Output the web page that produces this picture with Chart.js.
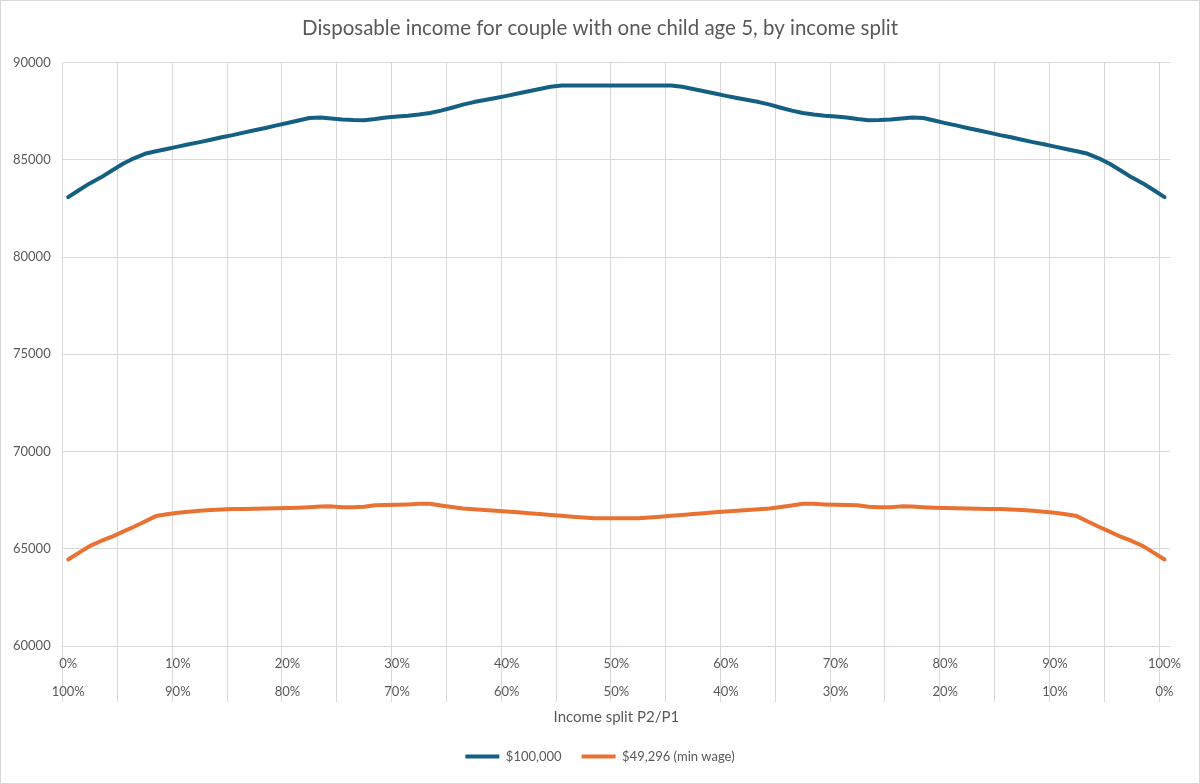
<!DOCTYPE html>
<html>
<head>
<meta charset="utf-8">
<script src="https://cdn.jsdelivr.net/npm/chart.js@4.4.1/dist/chart.umd.min.js"></script>
<style>
  html, body { margin: 0; padding: 0; background: #fff; }
  #wrap { width: 1200px; height: 784px; box-sizing: border-box; border: 1px solid #d9d9d9; }
</style>
</head>
<body>
<div id="wrap"><canvas id="chart"></canvas></div>
<script>
// Income split P2/P1 in 1% steps, 0%..100%
const splits = Array.from({ length: 101 }, (_, i) => i + "%");
const topLabels = ["0%", "10%", "20%", "30%", "40%", "50%", "60%", "70%", "80%", "90%", "100%"];
const bottomLabels = ["100%", "90%", "80%", "70%", "60%", "50%", "40%", "30%", "20%", "10%", "0%"];

const income100k = [
  83080, 83450, 83800, 84100, 84450, 84800, 85080, 85310, 85440, 85560,
  85680, 85800, 85910, 86030, 86160, 86270, 86400, 86520, 86640, 86770,
  86890, 87020, 87150, 87180, 87130, 87080, 87050, 87040, 87100, 87180,
  87230, 87270, 87330, 87410, 87530, 87680, 87840, 87970, 88080, 88180,
  88290, 88410, 88530, 88640, 88760, 88820, 88820, 88820, 88820, 88820,
  88820,
  88820, 88820, 88820, 88820, 88820, 88760, 88640, 88530, 88410, 88290,
  88180, 88080, 87970, 87840, 87680, 87530, 87410, 87330, 87270, 87230,
  87180, 87100, 87040, 87050, 87080, 87130, 87180, 87150, 87020, 86890,
  86770, 86640, 86520, 86400, 86270, 86160, 86030, 85910, 85800, 85680,
  85560, 85440, 85310, 85080, 84800, 84450, 84100, 83800, 83450, 83080
];

const incomeMinWage = [
  64450, 64800, 65150, 65400, 65620, 65880, 66130, 66400, 66680, 66770,
  66850, 66900, 66950, 66990, 67020, 67040, 67050, 67060, 67070, 67080,
  67090, 67110, 67140, 67170, 67180, 67140, 67140, 67160, 67240, 67250,
  67260, 67280, 67310, 67320, 67230, 67150, 67070, 67030, 66990, 66950,
  66920, 66880, 66830, 66790, 66740, 66700, 66650, 66610, 66570, 66570,
  66570,
  66570, 66570, 66610, 66650, 66700, 66740, 66790, 66830, 66880, 66920,
  66950, 66990, 67030, 67070, 67150, 67230, 67320, 67310, 67280, 67260,
  67250, 67240, 67160, 67140, 67140, 67180, 67170, 67140, 67110, 67090,
  67080, 67070, 67060, 67050, 67040, 67020, 66990, 66950, 66900, 66850,
  66770, 66680, 66400, 66130, 65880, 65620, 65400, 65150, 64800, 64450
];

const textColor = "#595959";
const gridColor = "#d9d9d9";

Chart.defaults.font.family = "Lato, 'Open Sans', sans-serif";
Chart.defaults.color = textColor;

new Chart(document.getElementById("chart"), {
  type: "line",
  data: {
    labels: splits,
    datasets: [
      {
        label: "$100,000",
        data: income100k,
        borderColor: "#156082",
        backgroundColor: "#156082",
        borderWidth: 4,
        pointRadius: 0,
        tension: 0,
        borderJoinStyle: "round",
        borderCapStyle: "round",
      },
      {
        label: "$49,296 (min wage)",
        data: incomeMinWage,
        borderColor: "#E97132",
        backgroundColor: "#E97132",
        borderWidth: 4,
        pointRadius: 0,
        tension: 0,
        borderJoinStyle: "round",
        borderCapStyle: "round",
      },
    ],
  },
  options: {
    responsive: true,
    maintainAspectRatio: false,
    animation: false,
    layout: { padding: { left: 0, right: 0, top: 0, bottom: 10 } },
    plugins: {
      title: {
        display: true,
        text: "Disposable income for couple with one child age 5, by income split",
        color: textColor,
        font: { size: 20.5, weight: "normal" },
        padding: { top: 15, bottom: 22 },
      },
      legend: {
        position: "bottom",
        labels: {
          usePointStyle: true,
          pointStyle: "line",
          pointStyleWidth: 34,
          color: textColor,
          font: { size: 13 },
          padding: 20,
        },
      },
      tooltip: { enabled: false },
    },
    scales: {
      x: {
        offset: true,
        border: { display: false },
        grid: {
          offset: true,
          tickLength: 56,
          color: (ctx) => (ctx.index % 5 === 0 && ctx.index <= 100 ? gridColor : "rgba(0,0,0,0)"),
        },
        ticks: {
          autoSkip: false,
          maxRotation: 0,
          minRotation: 0,
          padding: -52,
          color: textColor,
          font: { size: 13, lineHeight: 28 / 13 },
          callback: (v, i) => (i % 10 === 0 ? [topLabels[i / 10], bottomLabels[i / 10]] : ""),
        },
        title: {
          display: true,
          text: "Income split P2/P1",
          color: textColor,
          font: { size: 15 },
          padding: { top: 54, bottom: 4 },
        },
      },
      y: {
        min: 60000,
        max: 90000,
        border: { display: false },
        grid: { color: gridColor, drawTicks: false },
        ticks: {
          stepSize: 5000,
          padding: 12,
          color: textColor,
          font: { size: 13 },
          callback: (v) => String(v),
        },
      },
      // empty right-hand margin of the plot area
      yRight: {
        position: "right",
        min: 0,
        max: 1,
        border: { display: false },
        grid: { display: false },
        ticks: { display: false },
        afterFit: (scale) => {
          scale.width = 29;
        },
      },
    },
  },
});
</script>
</body>
</html>
